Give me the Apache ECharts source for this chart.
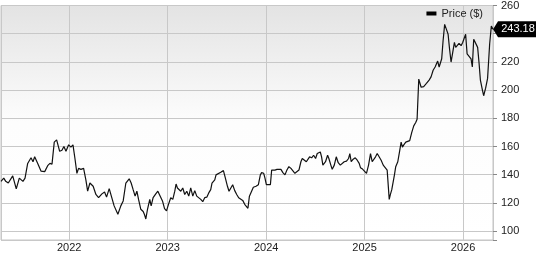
<!DOCTYPE html>
<html>
<head>
<meta charset="utf-8">
<script src="https://cdn.jsdelivr.net/npm/echarts@6/dist/echarts.min.js"></script>
<style>
html,body{margin:0;padding:0;background:#fff;}
#chart{width:538px;height:253px;}
</style>
</head>
<body>
<div id="chart"></div>
<script>
// Dates as decimal years
const years = [2021.307,2021.335,2021.355,2021.381,2021.426,2021.462,2021.493,2021.510,2021.530,2021.551,2021.578,2021.612,2021.632,2021.649,2021.680,2021.713,2021.733,2021.751,2021.781,2021.804,2021.825,2021.848,2021.872,2021.903,2021.926,2021.946,2021.967,2021.994,
2022.017,2022.038,2022.058,2022.078,2022.095,2022.119,2022.146,2022.169,2022.187,2022.210,2022.243,2022.271,2022.298,2022.332,2022.359,2022.379,2022.406,2022.426,2022.456,2022.474,2022.494,2022.524,2022.548,2022.575,2022.592,2022.609,2022.629,2022.649,2022.669,2022.687,2022.704,2022.727,2022.751,2022.765,2022.778,2022.795,2022.818,2022.832,2022.852,2022.879,2022.900,2022.920,2022.947,2022.968,2022.988,
2023.008,2023.031,2023.052,2023.072,2023.085,2023.099,2023.116,2023.133,2023.153,2023.173,2023.194,2023.214,2023.234,2023.255,2023.275,2023.295,2023.315,2023.336,2023.356,2023.376,2023.397,2023.417,2023.437,2023.450,2023.465,2023.478,2023.491,2023.511,2023.539,2023.566,2023.586,2023.607,2023.623,2023.640,2023.660,2023.681,2023.701,2023.721,2023.741,2023.762,2023.782,2023.802,2023.815,2023.830,2023.850,2023.870,2023.897,2023.921,2023.941,2023.954,2023.975,2023.988,
2024.002,2024.022,2024.043,2024.056,2024.069,2024.089,2024.110,2024.130,2024.150,2024.170,2024.191,2024.211,2024.231,2024.252,2024.272,2024.292,2024.312,2024.333,2024.353,2024.367,2024.387,2024.408,2024.428,2024.441,2024.462,2024.482,2024.502,2024.519,2024.536,2024.550,2024.563,2024.576,2024.590,2024.603,2024.624,2024.637,2024.657,2024.671,2024.692,2024.712,2024.732,2024.753,2024.773,2024.793,2024.816,2024.837,2024.850,2024.864,2024.884,2024.905,2024.925,2024.945,2024.958,2024.979,2024.999,
2025.019,2025.040,2025.060,2025.077,2025.093,2025.111,2025.128,2025.148,2025.168,2025.189,2025.209,2025.229,2025.250,2025.262,2025.276,2025.290,2025.303,2025.316,2025.337,2025.357,2025.371,2025.384,2025.398,2025.418,2025.438,2025.458,2025.479,2025.499,2025.519,2025.533,2025.550,2025.574,2025.600,2025.628,2025.655,2025.675,2025.696,2025.716,2025.729,2025.742,2025.757,2025.770,2025.783,2025.797,2025.813,2025.831,2025.848,2025.861,2025.878,2025.895,2025.912,2025.925,2025.939,2025.959,2025.980,2025.996,
2026.013,2026.026,2026.041,2026.061,2026.081,2026.094,2026.108,2026.128,2026.148,2026.163,2026.176,2026.196,2026.209,2026.229,2026.249,2026.270,2026.287,2026.304];

const prices = [135.3,137.6,135.3,134.1,139.2,129.9,137.6,138,135.3,137.6,148,152,149.2,152.7,148,142.6,144,142.2,146.4,148,147.5,163.1,164.7,156.6,157.3,160,156.6,161.2,
159.6,161.2,151.5,141,144.5,143.8,144.5,136.4,128.3,134.1,131.8,126,123.7,126.4,127.8,124.1,130.1,128.7,117.9,119,112,117.9,121.4,134.1,135.3,137.1,134.1,129.4,124.8,128.3,122.5,115.5,113.9,111.6,108.6,115.5,122.5,117.9,123.7,126.4,128.3,127.1,121.4,116,114.4,
119,123.7,122.5,128.3,133.4,130.6,131.8,128.3,130.6,126,128.3,124.8,130.6,124.8,128.7,124.8,123.7,122.5,120.9,123.7,124.1,127.1,129.4,134.1,133.4,136.4,139.9,141,141.7,142.9,137.6,131.8,128.3,129.4,132.9,128.7,126,123.7,123.7,121.8,119,117.9,116.2,124.8,126,131.1,131.8,132.9,139.9,141.5,141,137.6,
132.9,132.2,132.9,143.3,144.5,143.3,143.8,142.9,143.8,141.5,139.9,143.3,145.7,144.5,143.3,141,139.9,143.3,149.2,151.5,150.3,149.2,150.3,152.7,152,153.8,151.5,155,154.5,156.1,152.7,146.8,145.7,149.2,153.8,151.5,146.8,143.8,146.8,152.7,148.5,146.8,148,149.2,149.6,151.5,155,149.2,151,152,150.3,148,145,144,143.3,
141,146.8,155,149.2,148,152.7,155,153.8,150.3,146.8,145.7,143.3,122.5,126,129.4,130.6,139.9,145.7,149.2,157.3,163.1,159.6,161.2,163.1,163.1,164.2,170,174.6,177,179.3,207.8,202,202.5,204.8,207.1,209.4,214.1,216.4,217.6,220.6,216.4,215.3,222.2,235,246.6,243.1,239.6,230.3,219.9,226.8,233.8,230.3,231.5,233.1,231.5,233.8,
232.7,239.6,225.7,224.5,222.2,216.4,236.1,235,230.3,218.7,207.1,200.2,196,201.4,208.3,232.7,245.4,243.18];

const seriesName = 'Price ($)';
const yMin = 93.7, yMax = 260;

const data = years.map((y, i) => [y, prices[i]]);
const last = data[data.length - 1];

const chart = echarts.init(document.getElementById('chart'), null, {renderer: 'canvas'});
const FONT = 'Liberation Sans, Arial, sans-serif';
chart.setOption({
  animation: false,
  grid: {
    left: 1, right: 45, top: 4, bottom: 10,
    show: true,
    borderColor: '#c4c4c4',
    borderWidth: 1,
    backgroundColor: {
      type: 'linear', x: 0, y: 0, x2: 0, y2: 1,
      colorStops: [
        {offset: 0, color: '#e3e3e3'},
        {offset: 0.5, color: '#fdfdfd'},
        {offset: 1, color: '#ffffff'}
      ]
    }
  },
  legend: {
    data: [seriesName],
    right: 55, top: 8,
    padding: 0,
    icon: 'rect',
    itemWidth: 10, itemHeight: 4,
    itemGap: 5,
    textStyle: {color: '#222', fontSize: 11, fontFamily: FONT}
  },
  xAxis: {
    type: 'value',
    min: years[0], max: years[years.length - 1],
    minInterval: 1, maxInterval: 1, splitNumber: 5,
    axisLine: {show: false},
    axisTick: {show: false},
    axisLabel: {
      margin: 2, color: '#222', fontSize: 11, fontFamily: FONT,
      showMinLabel: false, showMaxLabel: false,
      formatter: v => (Math.abs(v - Math.round(v)) < 1e-6 ? String(Math.round(v)) : '')
    },
    splitLine: {show: true, lineStyle: {color: '#c8c8c8', width: 1}}
  },
  yAxis: {
    type: 'value',
    position: 'right',
    min: yMin, max: yMax,
    minInterval: 20, maxInterval: 20, splitNumber: 8,
    axisLine: {show: false},
    axisTick: {show: true, length: 4, lineStyle: {color: '#888'}},
    axisLabel: {
      margin: 8, color: '#222', fontSize: 11, fontFamily: FONT,
      formatter: v => (Math.abs(v % 20) < 1e-6 ? String(v) : '')
    },
    splitLine: {show: true, lineStyle: {color: '#c8c8c8', width: 1}}
  },
  series: [{
    name: seriesName,
    type: 'line',
    data: data,
    showSymbol: false,
    symbol: 'none',
    color: '#000',
    lineStyle: {color: '#111', width: 1.2},
    markPoint: {
      silent: true,
      data: [{
        coord: last,
        value: last[1],
        symbol: 'path://M0,8L5,0L43,0L43,16L5,16Z',
        symbolSize: [43, 16],
        symbolOffset: [21.5, 0],
        itemStyle: {color: '#000'},
        label: {
          show: true, color: '#fff', fontSize: 11, fontFamily: FONT,
          offset: [3.5, 0],
          formatter: p => Number(p.value).toFixed(2)
        }
      }]
    }
  }]
});
</script>
</body>
</html>
